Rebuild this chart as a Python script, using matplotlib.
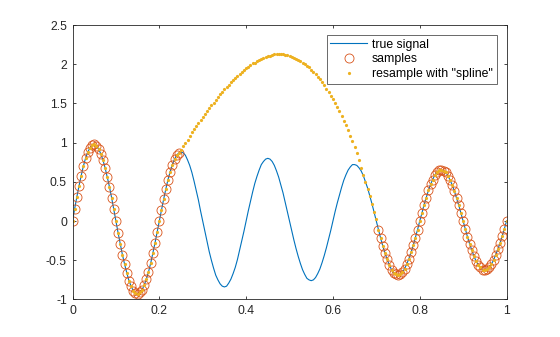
import numpy as np
import matplotlib
matplotlib.use("Agg")
import matplotlib.pyplot as plt

plt.rcParams['font.family'] = ['Liberation Sans', 'DejaVu Sans']

# time grid, 200 Hz over one second
t = np.linspace(0, 1, 201)

# true signal on the grid
signal = np.array([
    0, 0.16, 0.31, 0.45, 0.58, 0.70, 0.80, 0.88, 0.93, 0.97,
    0.98, 0.96, 0.92, 0.86, 0.78, 0.68, 0.56, 0.44, 0.30, 0.15,
    0, -0.15, -0.29, -0.43, -0.55, -0.66, -0.76, -0.83, -0.89, -0.92,
    -0.93, -0.91, -0.88, -0.82, -0.74, -0.65, -0.54, -0.41, -0.28, -0.14,
    0, 0.14, 0.28, 0.41, 0.53, 0.63, 0.72, 0.79, 0.84, 0.87,
    0.88, 0.87, 0.84, 0.78, 0.71, 0.62, 0.51, 0.39, 0.27, 0.13,
    0, -0.13, -0.26, -0.39, -0.50, -0.60, -0.69, -0.75, -0.80, -0.83,
    -0.84, -0.83, -0.79, -0.74, -0.67, -0.59, -0.49, -0.37, -0.25, -0.13,
    0, 0.13, 0.25, 0.37, 0.48, 0.57, 0.65, 0.72, 0.76, 0.79,
    0.80, 0.79, 0.76, 0.71, 0.64, 0.56, 0.46, 0.36, 0.24, 0.12,
    0, -0.12, -0.24, -0.35, -0.45, -0.54, -0.62, -0.68, -0.73, -0.75,
    -0.76, -0.75, -0.72, -0.67, -0.61, -0.53, -0.44, -0.34, -0.23, -0.12,
    0, 0.12, 0.23, 0.33, 0.43, 0.52, 0.59, 0.65, 0.69, 0.72,
    0.72, 0.71, 0.68, 0.64, 0.58, 0.50, 0.42, 0.32, 0.22, 0.11,
    0, -0.11, -0.22, -0.32, -0.41, -0.49, -0.56, -0.62, -0.66, -0.68,
    -0.69, -0.68, -0.65, -0.61, -0.55, -0.48, -0.40, -0.31, -0.21, -0.11,
    0, 0.10, 0.21, 0.30, 0.39, 0.47, 0.53, 0.59, 0.62, 0.65,
    0.65, 0.64, 0.62, 0.58, 0.52, 0.46, 0.38, 0.29, 0.20, 0.10,
    0, -0.10, -0.20, -0.29, -0.37, -0.45, -0.51, -0.56, -0.59, -0.62,
    -0.62, -0.61, -0.59, -0.55, -0.50, -0.43, -0.36, -0.28, -0.19, -0.10,
    0,
])

# samples kept on each side of the missing stretch
kept = np.r_[0:50, 141:201]
gap = np.arange(50, 141)

# spline resample values inside the gap (t = 0.25 .. 0.70)
gap_fill = np.array([
    0.91, 0.96, 1.00, 1.04, 1.08, 1.13, 1.17, 1.21, 1.25, 1.29,
    1.33, 1.37, 1.40, 1.44, 1.48, 1.51, 1.55, 1.58, 1.62, 1.65,
    1.68, 1.71, 1.74, 1.77, 1.80, 1.83, 1.85, 1.88, 1.90, 1.93,
    1.95, 1.97, 1.99, 2.01, 2.02, 2.04, 2.05, 2.07, 2.08, 2.09,
    2.10, 2.11, 2.12, 2.13, 2.13, 2.13, 2.13, 2.13, 2.12, 2.12,
    2.10, 2.09, 2.08, 2.07, 2.06, 2.04, 2.02, 2.00, 1.98, 1.96,
    1.93, 1.90, 1.87, 1.84, 1.81, 1.77, 1.73, 1.69, 1.65, 1.60,
    1.56, 1.51, 1.45, 1.40, 1.34, 1.28, 1.22, 1.16, 1.09, 1.02,
    0.95, 0.87, 0.78, 0.68, 0.59, 0.50, 0.41, 0.32, 0.22, 0.12,
    0.02,
])

resampled = signal.copy()
resampled[gap] = gap_fill

blue = '#0072BD'
orange = '#D95319'
yellow = '#EDB120'

fig = plt.figure(figsize=(5.6, 3.37), dpi=100)
ax = fig.add_axes([0.1295, 0.1113, 0.775, 0.8145])

ax.plot(t, signal, color=blue, lw=0.8, label='true signal')
ax.plot(t[kept], signal[kept], 'o', ls='none', ms=6.5, mfc='none',
        mec=orange, mew=0.6, label='samples')
ax.plot(t, resampled, 'o', ls='none', ms=2.3, mfc=yellow, mec='none',
        label='resample with "spline"')

ax.set_xlim(0, 1)
ax.set_ylim(-1, 2.5)
ax.set_xticks([0, 0.2, 0.4, 0.6, 0.8, 1])
ax.set_xticklabels(['0', '0.2', '0.4', '0.6', '0.8', '1'])
ax.set_yticks([-1, -0.5, 0, 0.5, 1, 1.5, 2, 2.5])
ax.set_yticklabels(['-1', '-0.5', '0', '0.5', '1', '1.5', '2', '2.5'])
ax.tick_params(direction='in', length=2.5, width=0.6, labelsize=8.8,
               top=True, right=True, colors='#262626', pad=4)
for sp in ax.spines.values():
    sp.set_linewidth(0.6)
    sp.set_color('#262626')

leg = ax.legend(loc='upper right', bbox_to_anchor=(1 - 10 / 434, 1 - 10 / 274),
                borderaxespad=0, fontsize=8.8, frameon=True, fancybox=False,
                handlelength=3.0, handletextpad=0.4, labelspacing=0.22,
                borderpad=0.3)
leg.get_frame().set_edgecolor('#262626')
leg.get_frame().set_linewidth(0.6)

fig.savefig('out.png', dpi=100)
